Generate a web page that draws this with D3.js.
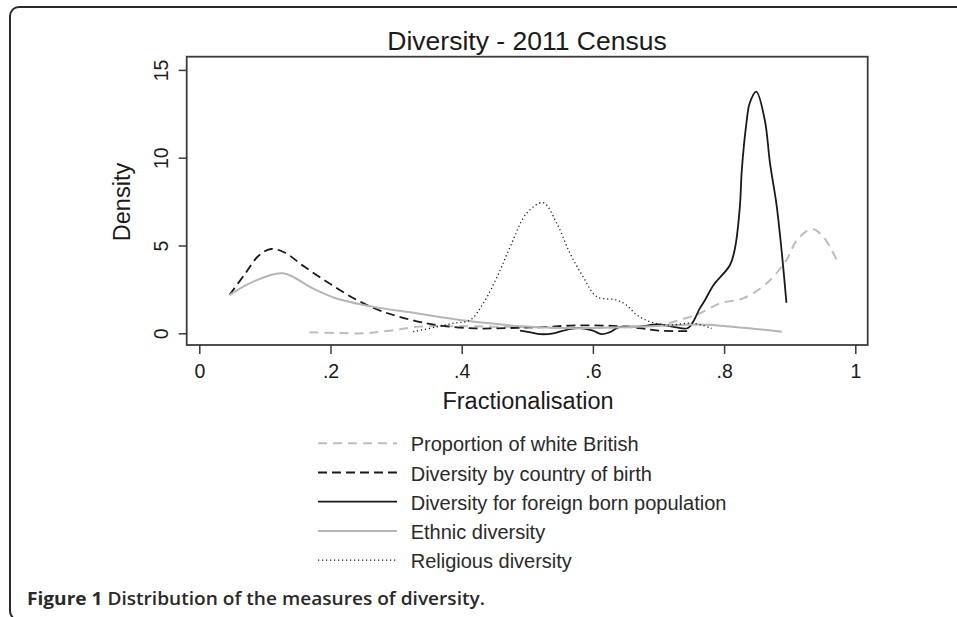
<!DOCTYPE html>
<html>
<head>
<meta charset="utf-8">
<script src="https://cdn.jsdelivr.net/npm/d3@7"></script>
<style>
  html, body { margin: 0; padding: 0; background: #fff; }
  svg { display: block; }
  .tick text { font-family: "Liberation Sans", Arial, sans-serif; }
</style>
</head>
<body>
<div id="grafico"></div>
<script>
// Valores: [fracionalização, densidade]
const brancoBritanico = [[0.168,0.06],[0.21,0.02],[0.25,0.0],[0.29,0.15],[0.336,0.38],[0.4,0.4],[0.45,0.38],[0.5,0.35],[0.55,0.3],[0.6,0.3],[0.65,0.35],[0.7,0.45],[0.723,0.66],[0.745,0.9],[0.763,1.14],[0.794,1.71],[0.829,1.99],[0.865,2.85],[0.895,4.17],[0.911,5.31],[0.934,5.94],[0.951,5.5],[0.964,4.74],[0.974,4.02]];
const paisNascimento = [[0.046,2.18],[0.07,3.4],[0.09,4.4],[0.109,4.8],[0.13,4.6],[0.16,3.8],[0.198,2.85],[0.24,1.9],[0.28,1.23],[0.33,0.7],[0.362,0.47],[0.42,0.28],[0.47,0.3],[0.52,0.35],[0.575,0.45],[0.63,0.42],[0.67,0.3],[0.70,0.15],[0.75,0.13]];
const nascidosFora = [[0.489,0.15],[0.505,0.05],[0.52,-0.05],[0.54,0.0],[0.56,0.2],[0.58,0.3],[0.60,0.15],[0.613,-0.05],[0.625,0.05],[0.64,0.35],[0.67,0.38],[0.70,0.5],[0.725,0.35],[0.745,0.3],[0.763,1.42],[0.771,1.9],[0.784,2.75],[0.809,3.89],[0.817,4.93],[0.824,7.2],[0.827,9.3],[0.834,11.96],[0.839,13.1],[0.849,13.76],[0.862,12.15],[0.870,9.68],[0.880,7.3],[0.889,4.2],[0.895,1.74]];
const etnica = [[0.046,2.18],[0.08,2.9],[0.127,3.42],[0.173,2.56],[0.208,2.0],[0.264,1.52],[0.331,1.14],[0.397,0.76],[0.443,0.57],[0.49,0.4],[0.55,0.3],[0.6,0.3],[0.65,0.35],[0.7,0.42],[0.763,0.5],[0.82,0.35],[0.888,0.09]];
const religiosa = [[0.326,0.09],[0.36,0.35],[0.387,0.57],[0.413,0.76],[0.433,1.71],[0.455,3.3],[0.474,4.93],[0.499,6.83],[0.524,7.44],[0.545,6.26],[0.565,4.56],[0.585,3.22],[0.606,2.08],[0.636,1.9],[0.651,1.61],[0.667,1.04],[0.687,0.66],[0.712,0.47],[0.753,0.57],[0.781,0.28]];

const rotulos = ['Proportion of white British', 'Diversity by country of birth', 'Diversity for foreign born population', 'Ethnic diversity', 'Religious diversity'];
const ticksX = [0, 0.2, 0.4, 0.6, 0.8, 1];
const rotulosX = ['0', '.2', '.4', '.6', '.8', '1'];
const ticksY = [0, 5, 10, 15];

// Estilo de cada série (mesma ordem dos rótulos)
const series = [
  { dados: brancoBritanico, cor: '#bdbdbd', largura: 2, traco: '9,6' },
  { dados: paisNascimento, cor: '#1a1a1a', largura: 1.8, traco: '9,5' },
  { dados: nascidosFora, cor: '#1a1a1a', largura: 1.8, traco: null },
  { dados: etnica, cor: '#b5b5b5', largura: 2, traco: null },
  { dados: religiosa, cor: '#1a1a1a', largura: 1.3, traco: '1.2,2.8' }
];

const largura = 957;
const altura = 617;
const fonte = '"Liberation Sans", Arial, sans-serif';

const svg = d3.select('#grafico').append('svg')
  .attr('width', largura)
  .attr('height', altura);

// Moldura arredondada da figura (lados direito e inferior saem da imagem)
svg.append('rect')
  .attr('x', 10).attr('y', 7)
  .attr('width', 1000).attr('height', 613)
  .attr('rx', 9)
  .attr('fill', 'none')
  .attr('stroke', '#2a2a2a')
  .attr('stroke-width', 2);

// Escalas
const escalaX = d3.scaleLinear().domain([0, 1]).range([199.3, 855.3]);
const escalaY = d3.scaleLinear().domain([0, 15]).range([333.3, 69.9]);

const caixa = { x0: 186.7, x1: 867.7, y0: 56.7, y1: 345 };

// Título
svg.append('text')
  .attr('x', 527).attr('y', 50)
  .attr('text-anchor', 'middle')
  .attr('font-family', fonte)
  .attr('font-size', 26.5)
  .attr('fill', '#1a1a1a')
  .text('Diversity - 2011 Census');

// Curvas
const linha = d3.line()
  .x(d => escalaX(d[0]))
  .y(d => escalaY(d[1]))
  .curve(d3.curveCatmullRom.alpha(0.5));

series.forEach(s => {
  svg.append('path')
    .datum(s.dados)
    .attr('d', linha)
    .attr('fill', 'none')
    .attr('stroke', s.cor)
    .attr('stroke-width', s.largura)
    .attr('stroke-dasharray', s.traco)
    .attr('stroke-linejoin', 'round');
});

// Caixa do gráfico
svg.append('rect')
  .attr('x', caixa.x0).attr('y', caixa.y0)
  .attr('width', caixa.x1 - caixa.x0)
  .attr('height', caixa.y1 - caixa.y0)
  .attr('fill', 'none')
  .attr('stroke', '#3c3c3c')
  .attr('stroke-width', 1.8);

// Eixo X
const eixoX = svg.append('g')
  .attr('transform', `translate(0,${caixa.y1})`)
  .call(d3.axisBottom(escalaX)
    .tickValues(ticksX)
    .tickFormat((d, i) => rotulosX[i])
    .tickSize(9)
    .tickPadding(10));
eixoX.select('.domain').remove();
eixoX.selectAll('line').attr('stroke', '#3c3c3c').attr('stroke-width', 1.5);
eixoX.selectAll('text').attr('font-size', 19.5).attr('fill', '#1a1a1a');

// Eixo Y (rótulos verticais)
const eixoY = svg.append('g')
  .attr('transform', `translate(${caixa.x0},0)`)
  .call(d3.axisLeft(escalaY)
    .tickValues(ticksY)
    .tickSize(8));
eixoY.select('.domain').remove();
eixoY.selectAll('line').attr('stroke', '#3c3c3c').attr('stroke-width', 1.5);
eixoY.selectAll('text')
  .attr('x', null).attr('dy', null)
  .attr('text-anchor', 'middle')
  .attr('transform', 'translate(-19,0) rotate(-90)')
  .attr('font-size', 19.5)
  .attr('fill', '#1a1a1a');

// Títulos dos eixos
svg.append('text')
  .attr('x', 528).attr('y', 409)
  .attr('text-anchor', 'middle')
  .attr('font-family', fonte)
  .attr('font-size', 23.5)
  .attr('fill', '#1a1a1a')
  .text('Fractionalisation');

svg.append('text')
  .attr('transform', 'translate(130,202) rotate(-90)')
  .attr('text-anchor', 'middle')
  .attr('font-family', fonte)
  .attr('font-size', 23.5)
  .attr('fill', '#1a1a1a')
  .text('Density');

// Legenda
const legenda = svg.append('g');
series.forEach((s, i) => {
  const y = 443.3 + i * 29.2;
  legenda.append('line')
    .attr('x1', 318).attr('x2', 397)
    .attr('y1', y).attr('y2', y)
    .attr('stroke', s.cor)
    .attr('stroke-width', s.largura)
    .attr('stroke-dasharray', s.traco);
  legenda.append('text')
    .attr('x', 410.7).attr('y', y + 8)
    .attr('font-family', fonte)
    .attr('font-size', 20)
    .attr('fill', '#2a2a2a')
    .text(rotulos[i]);
});

// Legenda da figura
const legendaFig = svg.append('text')
  .attr('x', 27).attr('y', 605)
  .attr('font-family', '"Open Sans", sans-serif')
  .attr('font-size', 17.5)
  .attr('fill', '#2a2a2a')
  .attr('textLength', 458)
  .attr('lengthAdjust', 'spacingAndGlyphs');
legendaFig.append('tspan').attr('font-weight', 700).text('Figure 1');
legendaFig.append('tspan').attr('font-weight', 600).text(' Distribution of the measures of diversity.');
</script>
</body>
</html>
